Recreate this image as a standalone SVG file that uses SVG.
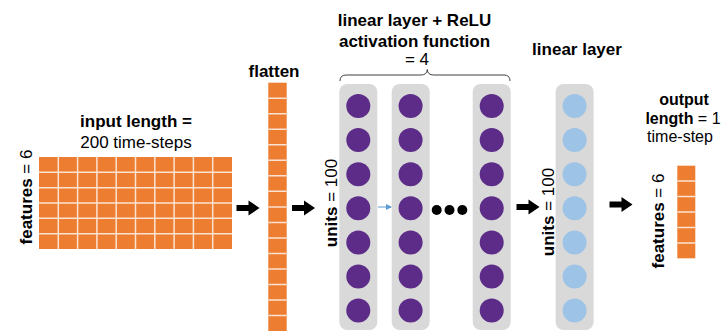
<svg xmlns="http://www.w3.org/2000/svg" width="725" height="333" viewBox="0 0 725 333">
<style>
text{font-family:"Liberation Sans",Arial,sans-serif;font-size:17px;fill:#000}
.b{font-weight:bold}
.c{text-anchor:middle}
.s{font-size:16px}
.cell{fill:#ED7D31}
.gl{stroke:#FBE3D3;stroke-width:1.5}
.panel{fill:#D9D9D9}
.p{fill:#5C2C88}
.lb{fill:#9DC3E6}
</style>
<defs>
<path id="arr" d="M-23,-3 L-11,-3 L-11,-7.5 L0,0 L-11,7.5 L-11,3 L-23,3 Z" fill="#000"/>
<marker id="bh" markerWidth="6" markerHeight="6" refX="5" refY="3" orient="auto" markerUnits="userSpaceOnUse"><path d="M0,0 L6,3 L0,6 Z" fill="#5B9BD5"/></marker>
</defs>
<g id="input">
<text class="b c" x="136" y="127">input length =</text>
<text class="c" x="136" y="147.5">200 time-steps</text>
<text transform="translate(31.5,197) rotate(-90)" class="c"><tspan class="b">features</tspan> = 6</text>
<rect class="cell" x="39" y="157" width="193" height="92"/>
<g class="gl">
<path d="M58.3,157V249M77.6,157V249M96.9,157V249M116.2,157V249M135.5,157V249M154.8,157V249M174.1,157V249M193.4,157V249M212.7,157V249"/>
<path d="M39,172.3H232M39,187.7H232M39,203H232M39,218.3H232M39,233.7H232"/>
</g>
</g>
<g id="flatten">
<text class="b c" x="274" y="76.5">flatten</text>
<rect class="cell" x="268.3" y="82.7" width="18.4" height="248.3"/>
<path class="gl" d="M268.3,98.2H286.7M268.3,113.7H286.7M268.3,129.3H286.7M268.3,144.8H286.7M268.3,160.3H286.7M268.3,175.8H286.7M268.3,191.3H286.7M268.3,206.9H286.7M268.3,222.4H286.7M268.3,237.9H286.7M268.3,253.4H286.7M268.3,268.9H286.7M268.3,284.5H286.7M268.3,300H286.7M268.3,315.5H286.7"/>
</g>
<g id="hidden">
<text class="b c" x="414.5" y="26">linear layer + ReLU</text>
<text class="b c" x="414.5" y="46.5">activation function</text>
<text class="c" x="417" y="65">= 4</text>
<path d="M340,81 Q340,75 346,75 L421,75 Q427,75 427.3,69.5 Q427.6,75 433.6,75 L504,75 Q510,75 510,81" fill="none" stroke="#404040" stroke-width="1"/>
<text transform="translate(337,203) rotate(-90)" class="c"><tspan class="b">units</tspan> = 100</text>
</g>
<g id="layer1">
<rect class="panel" x="339.3" y="84" width="38" height="246" rx="8"/>
<g class="p"><circle cx="358.3" cy="106" r="12"/><circle cx="358.3" cy="140.1" r="12"/><circle cx="358.3" cy="174.2" r="12"/><circle cx="358.3" cy="208.3" r="12"/><circle cx="358.3" cy="242.4" r="12"/><circle cx="358.3" cy="276.5" r="12"/><circle cx="358.3" cy="310.6" r="12"/></g>
</g>
<g id="layer2">
<rect class="panel" x="391.7" y="84" width="38" height="246" rx="8"/>
<g class="p"><circle cx="410.6" cy="106" r="12"/><circle cx="410.6" cy="140.1" r="12"/><circle cx="410.6" cy="174.2" r="12"/><circle cx="410.6" cy="208.3" r="12"/><circle cx="410.6" cy="242.4" r="12"/><circle cx="410.6" cy="276.5" r="12"/><circle cx="410.6" cy="310.6" r="12"/></g>
</g>
<g id="ellipsis">
<circle cx="436.7" cy="210" r="5"/><circle cx="449.5" cy="210" r="5"/><circle cx="462.3" cy="210" r="5"/>
</g>
<g id="layer4">
<rect class="panel" x="472.7" y="84" width="38" height="246" rx="8"/>
<g class="p"><circle cx="491.7" cy="106" r="12"/><circle cx="491.7" cy="140.1" r="12"/><circle cx="491.7" cy="174.2" r="12"/><circle cx="491.7" cy="208.3" r="12"/><circle cx="491.7" cy="242.4" r="12"/><circle cx="491.7" cy="276.5" r="12"/><circle cx="491.7" cy="310.6" r="12"/></g>
</g>
<g id="linear">
<text class="b c" x="577" y="55">linear layer</text>
<text transform="translate(554,212) rotate(-90)" class="c"><tspan class="b">units</tspan> = 100</text>
<rect class="panel" x="555.6" y="84" width="38" height="246" rx="8"/>
<g class="lb"><circle cx="574.6" cy="106" r="12"/><circle cx="574.6" cy="140.1" r="12"/><circle cx="574.6" cy="174.2" r="12"/><circle cx="574.6" cy="208.3" r="12"/><circle cx="574.6" cy="242.4" r="12"/><circle cx="574.6" cy="276.5" r="12"/><circle cx="574.6" cy="310.6" r="12"/></g>
</g>
<g id="output">
<text class="b c s" x="684" y="105">output</text>
<text class="c s" x="683" y="123.5"><tspan class="b">length</tspan> = 1</text>
<text class="c s" x="680" y="142">time-step</text>
<text transform="translate(664,221) rotate(-90)" class="c"><tspan class="b">features</tspan> = 6</text>
<rect class="cell" x="677.3" y="165.7" width="18" height="92.6"/>
<path class="gl" d="M677.3,181.1H695.3M677.3,196.6H695.3M677.3,212H695.3M677.3,227.4H695.3M677.3,242.9H695.3"/>
</g>
<g id="connectors">
<use href="#arr" x="259.5" y="208"/>
<use href="#arr" x="315" y="208"/>
<use href="#arr" x="539.5" y="207"/>
<use href="#arr" x="632.5" y="204.5"/>
<line x1="378" y1="207" x2="391" y2="207" stroke="#5B9BD5" stroke-width="1" marker-end="url(#bh)"/>
</g>
</svg>
